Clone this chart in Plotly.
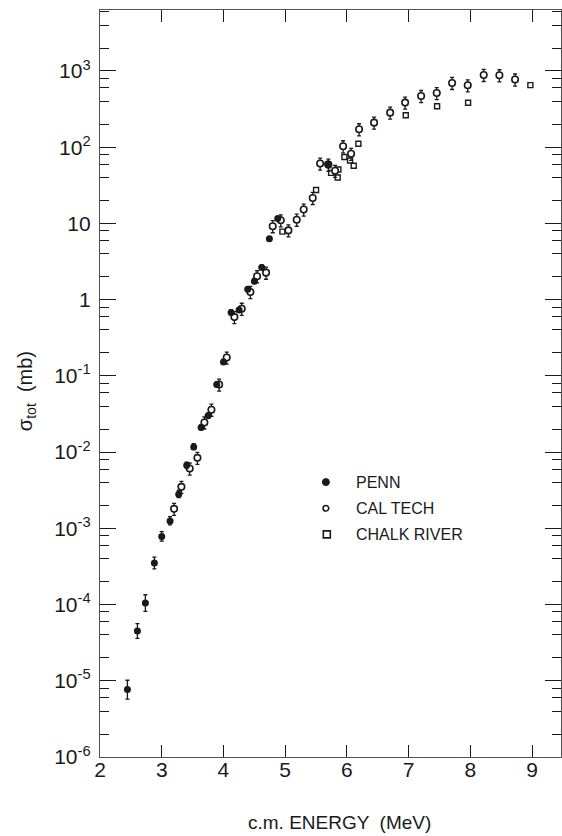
import plotly.graph_objects as go

# ---- measured total cross sections (c.m. energy in MeV, sigma in mb) ----
penn_e = [2.444, 2.606, 2.735, 2.881, 3.000, 3.135, 3.275, 3.405, 3.518, 3.638,
          3.751, 3.891, 4.000, 4.124, 4.253, 4.393, 4.501, 4.620, 4.744, 4.879, 5.689]
penn_s = [7.7e-6, 4.5e-5, 1.05e-4, 3.5e-4, 7.8e-4, 1.25e-3, 2.8e-3, 6.7e-3, 1.17e-2, 2.1e-2,
          3.0e-2, 7.7e-2, 0.152, 0.68, 0.73, 1.37, 1.74, 2.64, 6.3, 11.6, 60.0]
# relative uncertainty (percent) of each PENN point
penn_pct = [32, 25, 28, 20, 16, 14, 12, 10, 10, 8,
            8, 8, 8, 8, 8, 8, 8, 8, 6, 6, 6]

caltech_e = [3.200, 3.319, 3.453, 3.578, 3.691, 3.805, 3.930, 4.053, 4.177, 4.296,
             4.436, 4.545, 4.690, 4.798, 4.928, 5.052, 5.187, 5.300, 5.446, 5.566,
             5.700, 5.808, 5.938, 6.068, 6.197, 6.440, 6.700, 6.943, 7.202, 7.455,
             7.704, 7.957, 8.216, 8.470, 8.724]
caltech_s = [1.8e-3, 3.5e-3, 6.1e-3, 8.4e-3, 2.45e-2, 3.6e-2, 7.7e-2, 0.174, 0.59, 0.76,
             1.26, 2.03, 2.26, 9.2, 11.0, 8.1, 11.2, 15.2, 21.6, 61.0,
             59.0, 49.0, 103.0, 82.0, 172.0, 210.0, 284.0, 385.0, 470.0, 514.0,
             697.0, 649.0, 887.0, 879.0, 773.0]

chalk_e = [4.955, 5.500, 5.744, 5.851, 5.862, 5.959, 6.051, 6.110, 6.186, 6.953,
           7.461, 7.963, 8.972]
chalk_s = [7.8, 27.5, 46.0, 40.0, 51.0, 74.5, 67.0, 57.0, 111.0, 262.0,
           344.0, 383.0, 653.0]

x_ticks = [2, 3, 4, 5, 6, 7, 8, 9]
y_tickvals = [1e-6, 1e-5, 1e-4, 1e-3, 1e-2, 1e-1, 1, 10, 1e2, 1e3]
y_ticktext = ["10<sup>-6</sup>", "10<sup>-5</sup>", "10<sup>-4</sup>", "10<sup>-3</sup>",
              "10<sup>-2</sup>", "10<sup>-1</sup>", "1", "10",
              "10<sup>2</sup>", "10<sup>3</sup>"]
legend_names = ["PENN", "CAL TECH", "CHALK RIVER"]

INK = "#1a1a1a"
FONT = "Liberation Sans"

# minor ticks at 2, 4, 6, 8 within each decade
minor_vals = [m * 10.0 ** k for k in range(-6, 4) for m in (2, 4, 6, 8)]

fig = go.Figure()

fig.add_trace(go.Scatter(
    x=chalk_e, y=chalk_s, mode="markers", name=legend_names[2], showlegend=False,
    marker=dict(symbol="square", size=5, color="white",
                line=dict(color=INK, width=1.4)),
))

fig.add_trace(go.Scatter(
    x=caltech_e, y=caltech_s, mode="markers", name=legend_names[1], showlegend=False,
    error_y=dict(type="percent", value=18, color=INK, thickness=1.3, width=2),
    marker=dict(symbol="circle", size=6.5, color="white",
                line=dict(color=INK, width=1.6)),
))

fig.add_trace(go.Scatter(
    x=penn_e, y=penn_s, mode="markers", name=legend_names[0], showlegend=False,
    error_y=dict(type="data",
                 array=[s * p / 100 for s, p in zip(penn_s, penn_pct)],
                 arrayminus=[s * p / 100 * 0.8 for s, p in zip(penn_s, penn_pct)],
                 color=INK, thickness=1.3, width=2),
    marker=dict(symbol="circle", size=7, color=INK, line=dict(width=0)),
))

# ---- key (symbols drawn as shapes, text as annotations) ----
key_x_sym = 0.490   # paper fraction of plot width
key_x_txt = 0.551
key_y = [0.368, 0.333, 0.298]
fig.add_shape(type="circle", xref="paper", yref="paper", xsizemode="pixel", ysizemode="pixel",
              xanchor=key_x_sym, yanchor=key_y[0], x0=-3.5, x1=3.5, y0=-3.5, y1=3.5,
              fillcolor=INK, line=dict(color=INK, width=1))
fig.add_shape(type="circle", xref="paper", yref="paper", xsizemode="pixel", ysizemode="pixel",
              xanchor=key_x_sym, yanchor=key_y[1], x0=-2.8, x1=2.8, y0=-2.8, y1=2.8,
              fillcolor="white", line=dict(color=INK, width=1.6))
fig.add_shape(type="rect", xref="paper", yref="paper", xsizemode="pixel", ysizemode="pixel",
              xanchor=key_x_sym + 0.002, yanchor=key_y[2], x0=-3.5, x1=3.5, y0=-3.5, y1=3.5,
              fillcolor="white", line=dict(color=INK, width=1.6))
for name, yy in zip(legend_names, key_y):
    fig.add_annotation(text=name, xref="paper", yref="paper", x=key_x_txt, y=yy,
                       xanchor="left", yanchor="middle", showarrow=False,
                       font=dict(family=FONT, size=16, color=INK))

# ---- axis titles ----
fig.add_annotation(text="σ<sub>tot</sub>  (mb)", xref="paper", yref="paper",
                   x=-0.158, y=0.49, xanchor="center", yanchor="middle",
                   textangle=-90, showarrow=False,
                   font=dict(family=FONT, size=20, color=INK))
fig.add_annotation(text="c.m. ENERGY  (MeV)", xref="paper", yref="paper",
                   x=0.519, y=-0.088, xanchor="center", yanchor="middle",
                   showarrow=False, font=dict(family=FONT, size=19, color=INK))

fig.update_xaxes(
    range=[2, 9.468], tickvals=x_ticks, ticktext=[str(v) for v in x_ticks],
    ticks="inside", ticklen=12, tickwidth=1.3, tickcolor=INK,
    showline=True, linecolor="#555", linewidth=1.4, mirror="ticks",
    showgrid=False, zeroline=False, ticklabelstandoff=-6,
    tickfont=dict(family=FONT, size=21, color=INK),
)
fig.update_yaxes(
    type="log", range=[-6, 3.80], tickvals=y_tickvals, ticktext=y_ticktext,
    ticks="inside", ticklen=16, tickwidth=1.3, tickcolor=INK,
    showline=True, linecolor="#555", linewidth=1.4, mirror="ticks",
    showgrid=False, zeroline=False, ticklabelstandoff=4,
    tickfont=dict(family=FONT, size=21, color=INK),
    minor=dict(tickvals=minor_vals, ticks="inside", ticklen=9,
               tickwidth=1.2, tickcolor=INK, showgrid=False),
)

fig.update_layout(
    width=562, height=836,
    margin=dict(l=100, r=1, t=10, b=79),
    paper_bgcolor="white", plot_bgcolor="white",
    showlegend=False,
)

fig.write_html("out.html")
